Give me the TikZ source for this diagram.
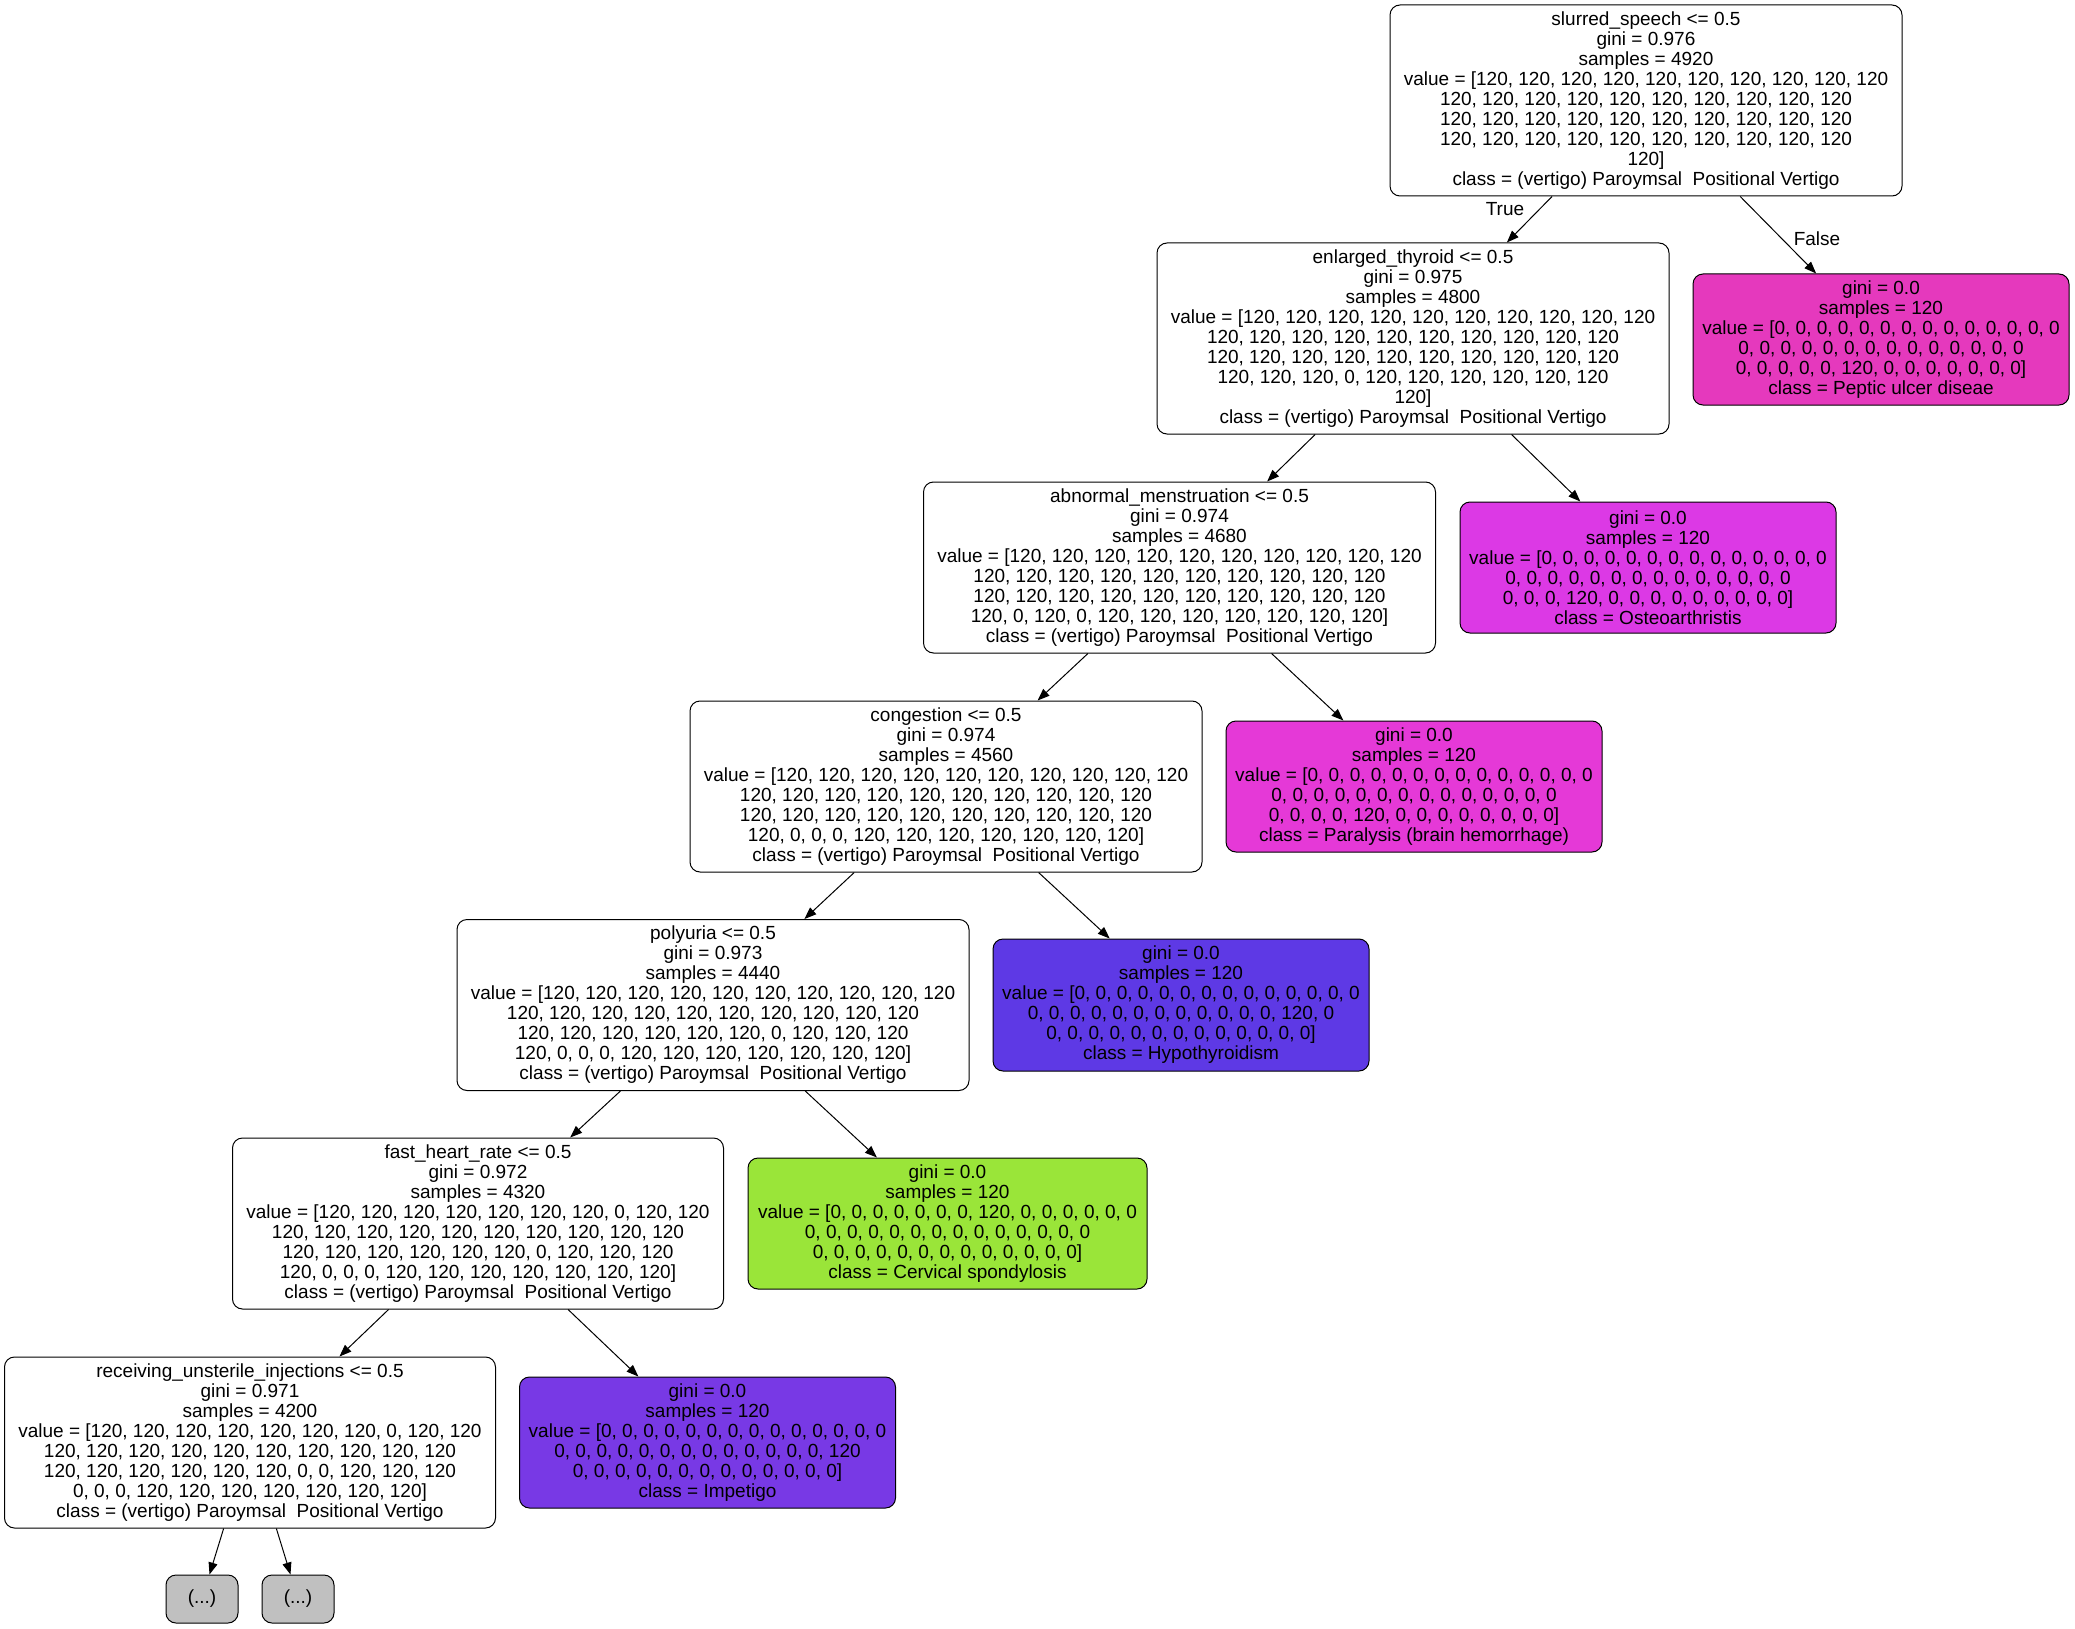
\documentclass[tikz,border=0pt]{standalone}
\usepackage{fontspec}
\setmainfont{Liberation Sans}
\usepackage{tikz}
\usetikzlibrary{arrows.meta}

\definecolor{peptic}{RGB}{229,57,189}
\definecolor{osteo}{RGB}{220,57,229}
\definecolor{paralysis}{RGB}{229,57,215}
\definecolor{hypothyroid}{RGB}{94,57,229}
\definecolor{cervical}{RGB}{154,229,57}
\definecolor{impetigo}{RGB}{120,57,229}
\definecolor{truncated}{RGB}{192,192,192}

\newcommand{\allrow}{120, 120, 120, 120, 120, 120, 120, 120, 120, 120}
\newcommand{\zerorow}{0, 0, 0, 0, 0, 0, 0, 0, 0, 0, 0, 0, 0, 0}
\newcommand{\vertigoclass}{class = (vertigo) Paroymsal\ \ Positional Vertigo}

\tikzset{
	treenode/.style={draw, rounded corners=10pt, align=center, inner xsep=8pt, inner ysep=4pt, font=\fontsize{19}{20}\selectfont},
	splitnode/.style={treenode, fill=white, minimum width=512pt, minimum height=171pt},
	leafnode/.style={treenode, minimum width=376pt, minimum height=131pt},
	truncnode/.style={treenode, fill=truncated, minimum width=72pt, minimum height=48pt},
	edgelabel/.style={font=\fontsize{19}{20}\selectfont, inner sep=0pt}
}

\begin{document}
\begin{tikzpicture}[x=1pt, y=-1pt, line width=1pt, >={Triangle[length=12pt,width=9pt]}]
	%\draw[help lines] (0,0) grid[step=100] (2075,1629);
	\useasboundingbox (0,0) rectangle (2075,1629);
	\node[splitnode, minimum height=191pt] (slurred) at (1646,100.5) {slurred\_speech <= 0.5\\ gini = 0.976\\ samples = 4920\\ value = [\allrow\\ \allrow\\ \allrow\\ \allrow\\ 120]\\ \vertigoclass};
	\node[splitnode, minimum height=191pt] (thyroid) at (1413,338.5) {enlarged\_thyroid <= 0.5\\ gini = 0.975\\ samples = 4800\\ value = [\allrow\\ \allrow\\ \allrow\\ 120, 120, 120, 0, 120, 120, 120, 120, 120, 120\\ 120]\\ \vertigoclass};
	\node[leafnode, fill=peptic] (peptic) at (1881,339.5) {gini = 0.0\\ samples = 120\\ value = [\zerorow\\ \zerorow\\ 0, 0, 0, 0, 0, 120, 0, 0, 0, 0, 0, 0, 0]\\ class = Peptic ulcer diseae};
	\node[splitnode] (menstruation) at (1179.5,567.5) {abnormal\_menstruation <= 0.5\\ gini = 0.974\\ samples = 4680\\ value = [\allrow\\ \allrow\\ \allrow\\ 120, 0, 120, 0, 120, 120, 120, 120, 120, 120, 120]\\ \vertigoclass};
	\node[leafnode, fill=osteo] (osteo) at (1648,567.5) {gini = 0.0\\ samples = 120\\ value = [\zerorow\\ \zerorow\\ 0, 0, 0, 120, 0, 0, 0, 0, 0, 0, 0, 0, 0]\\ class = Osteoarthristis};
	\node[splitnode] (congestion) at (946,786.5) {congestion <= 0.5\\ gini = 0.974\\ samples = 4560\\ value = [\allrow\\ \allrow\\ \allrow\\ 120, 0, 0, 0, 120, 120, 120, 120, 120, 120, 120]\\ \vertigoclass};
	\node[leafnode, fill=paralysis] (paralysis) at (1414,786.5) {gini = 0.0\\ samples = 120\\ value = [\zerorow\\ \zerorow\\ 0, 0, 0, 0, 120, 0, 0, 0, 0, 0, 0, 0, 0]\\ class = Paralysis (brain hemorrhage)};
	\node[splitnode] (polyuria) at (713,1005) {polyuria <= 0.5\\ gini = 0.973\\ samples = 4440\\ value = [\allrow\\ \allrow\\ 120, 120, 120, 120, 120, 120, 0, 120, 120, 120\\ 120, 0, 0, 0, 120, 120, 120, 120, 120, 120, 120]\\ \vertigoclass};
	\node[leafnode, fill=hypothyroid, minimum height=132pt] (hypothyroid) at (1181,1005) {gini = 0.0\\ samples = 120\\ value = [\zerorow\\ 0, 0, 0, 0, 0, 0, 0, 0, 0, 0, 0, 0, 120, 0\\ 0, 0, 0, 0, 0, 0, 0, 0, 0, 0, 0, 0, 0]\\ class = Hypothyroidism};
	\node[splitnode, minimum width=491pt] (fastheart) at (478,1223.5) {fast\_heart\_rate <= 0.5\\ gini = 0.972\\ samples = 4320\\ value = [120, 120, 120, 120, 120, 120, 120, 0, 120, 120\\ \allrow\\ 120, 120, 120, 120, 120, 120, 0, 120, 120, 120\\ 120, 0, 0, 0, 120, 120, 120, 120, 120, 120, 120]\\ \vertigoclass};
	\node[leafnode, fill=cervical, minimum width=399pt] (cervical) at (947.5,1223.5) {gini = 0.0\\ samples = 120\\ value = [0, 0, 0, 0, 0, 0, 0, 120, 0, 0, 0, 0, 0, 0\\ \zerorow\\ 0, 0, 0, 0, 0, 0, 0, 0, 0, 0, 0, 0, 0]\\ class = Cervical spondylosis};
	\node[splitnode, minimum width=491pt] (injections) at (250,1442.5) {receiving\_unsterile\_injections <= 0.5\\ gini = 0.971\\ samples = 4200\\ value = [120, 120, 120, 120, 120, 120, 120, 0, 120, 120\\ \allrow\\ 120, 120, 120, 120, 120, 120, 0, 0, 120, 120, 120\\ 0, 0, 0, 120, 120, 120, 120, 120, 120, 120]\\ \vertigoclass};
	\node[leafnode, fill=impetigo] (impetigo) at (707.5,1442.5) {gini = 0.0\\ samples = 120\\ value = [\zerorow\\ 0, 0, 0, 0, 0, 0, 0, 0, 0, 0, 0, 0, 0, 120\\ 0, 0, 0, 0, 0, 0, 0, 0, 0, 0, 0, 0, 0]\\ class = Impetigo};
	\node[truncnode] (moreleft) at (202,1599) {(...)};
	\node[truncnode] (moreright) at (298,1599) {(...)};
	% edges
	\foreach \a/\b in {slurred/thyroid, slurred/peptic, thyroid/menstruation, thyroid/osteo, menstruation/congestion, menstruation/paralysis, congestion/polyuria, congestion/hypothyroid, polyuria/fastheart, polyuria/cervical, fastheart/injections, fastheart/impetigo, injections/moreleft, injections/moreright}
		\draw[->] (\a) -- (\b);
	\node[edgelabel] (truelbl) at (1505,209) {True};
	\node[edgelabel] (falselbl) at (1817,239) {False};
\end{tikzpicture}
\end{document}
